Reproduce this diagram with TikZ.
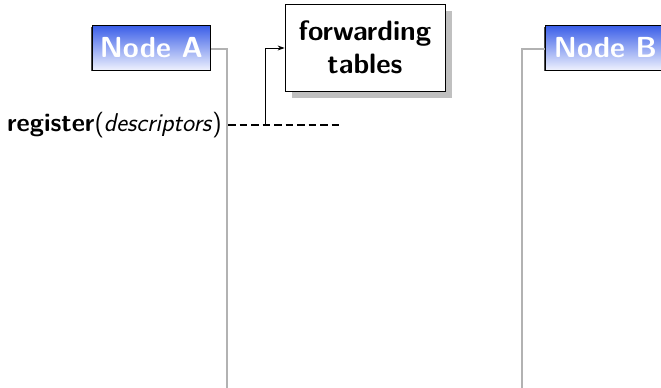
\documentclass[tikz,border=0pt]{standalone}
\usepackage{fontspec}
\usetikzlibrary{arrows.meta}
\definecolor{lifegray}{RGB}{178,178,178}
\definecolor{shadowgray}{RGB}{192,192,192}
\definecolor{headblue}{RGB}{58,94,232}
\tikzset{
  headbox/.style={draw=black, line width=0.8pt, top color=headblue, bottom color=white!92!headblue,
    text=white, font=\fontsize{29}{34}\selectfont\sffamily\bfseries,
    minimum height=45, inner sep=0pt, anchor=north west},
  headshadow/.style={fill=black!70},
  tablebox/.style={draw=black, line width=0.8pt, fill=white, align=center,
    font=\fontsize{28}{33}\selectfont\sffamily\bfseries, inner sep=0pt},
  lifeline/.style={draw=lifegray, line width=1.5pt},
  msgline/.style={draw=black, line width=1.6pt, dash pattern=on 7.5pt off 4pt},
  fwdarrow/.style={draw=black, line width=0.9pt, -{Stealth[length=7pt,width=5pt]}},
}
\begin{document}
\begin{tikzpicture}[x=1pt,y=-1pt]
  \useasboundingbox (0,0) rectangle (661,388);
  \clip (0,0) rectangle (661,388);

  % participant heads
  \fill[headshadow] (91,27) rectangle (209,71);
  \node[headbox, minimum width=118] (A) at (92,25) {Node A};
  \fill[headshadow] (544,27) rectangle (680,71);
  \node[headbox, minimum width=130] (B) at (545,25) {\hspace*{-10pt}Node B};

  % lifelines
  \coordinate (aturn) at (227,49);
  \coordinate (aend) at (227,388);
  \coordinate (bturn) at (522,49);
  \coordinate (bend) at (522,388);
  \draw[lifeline] (A.east |- aturn) -- (aturn) -- (aend);
  \draw[lifeline] (B.west |- bturn) -- (bturn) -- (bend);

  % forwarding tables with drop shadow
  \fill[shadowgray] (292,11) rectangle (452,98);
  \node[tablebox, minimum width=160, minimum height=87] (T) at (365,47.5) {forwarding\\tables};

  % register call
  \node[anchor=east, inner sep=0pt, font=\fontsize{25.7}{30}\selectfont\sffamily] (reg) at (222,125)
    {\textbf{register}(\textit{descriptors})};
  \coordinate (ms) at (228,125);
  \coordinate (me) at (340,125);
  \draw[msgline] (ms) -- (me);
  \coordinate (up) at (265,125);
  \coordinate (upturn) at (265,48);
  \draw[fwdarrow] (up) -- (upturn) -- (T.west |- upturn);
\end{tikzpicture}
\end{document}
